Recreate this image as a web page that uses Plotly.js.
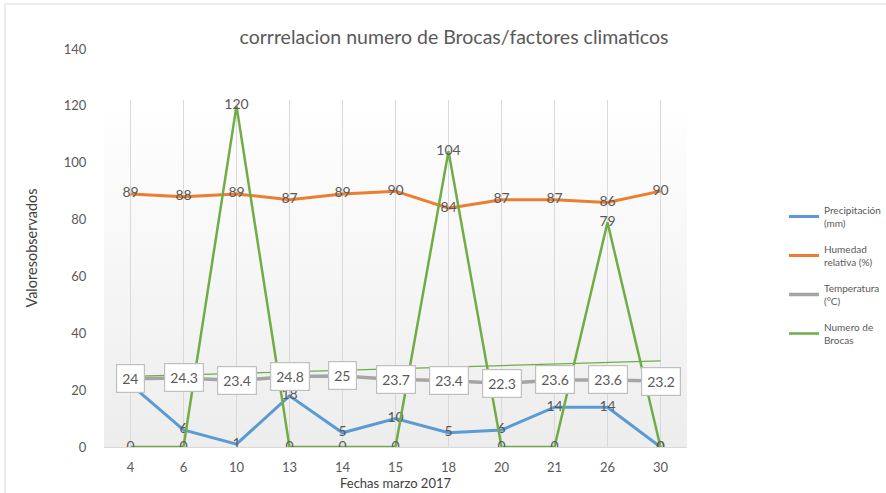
<!DOCTYPE html>
<html>
<head>
<meta charset="utf-8">
<script src="https://cdn.plot.ly/plotly-3.0.1.min.js"></script>
<style>html,body{margin:0;padding:0;background:#fff;}#chart{width:886px;height:493px;}</style>
</head>
<body>
<div id="chart"></div>
<script>
const fechas = ["4","6","10","13","14","15","18","20","21","26","30"];
const precipitacion = [22, 6, 1, 18, 5, 10, 5, 6, 14, 14, 0];
const humedad = [89, 88, 89, 87, 89, 90, 84, 87, 87, 86, 90];
const temperatura = [24, 24.3, 23.4, 24.8, 25, 23.7, 23.4, 22.3, 23.6, 23.6, 23.2];
const brocas = [0, 0, 120, 0, 0, 0, 104, 0, 0, 79, 0];

const FONT = "Lato, 'Open Sans', sans-serif";
const TXT = "#595959";

// linear trendline of Numero de Brocas (least squares over point index 1..n)
const n = brocas.length;
const idx = brocas.map((_, i) => i + 1);
const mx = idx.reduce((a, b) => a + b, 0) / n;
const my = brocas.reduce((a, b) => a + b, 0) / n;
let sxy = 0, sxx = 0;
for (let i = 0; i < n; i++) { sxy += (idx[i] - mx) * (brocas[i] - my); sxx += (idx[i] - mx) ** 2; }
const slope = sxy / sxx, icpt = my - slope * mx;
const trend = idx.map(v => icpt + slope * v);

const lblFont = {family: FONT, size: 14, color: TXT};

const traces = [
  {x: fechas, y: precipitacion, name: "Precipitación<br>(mm)", legendgroup: "a", type: "scatter", mode: "lines+text",
   text: precipitacion.map(String), textposition: "middle center", textfont: lblFont,
   line: {color: "#5B9BD5", width: 3}},
  {x: fechas, y: humedad, name: "Humedad<br>relativa (%)", legendgroup: "b", type: "scatter", mode: "lines+text",
   text: humedad.map(String), textposition: "middle center", textfont: lblFont,
   line: {color: "#ED7D31", width: 3}},
  {x: fechas, y: temperatura, name: "Temperatura<br>(°C)", legendgroup: "c", type: "scatter", mode: "lines",
   line: {color: "#A5A5A5", width: 3.5}},
  {x: fechas, y: brocas, name: "Numero de<br>Brocas", legendgroup: "d", type: "scatter", mode: "lines+text",
   text: brocas.map(String), textposition: "middle center", textfont: lblFont,
   line: {color: "#70AD47", width: 2.5}},
  {x: fechas, y: trend, name: "Lineal (Numero de Brocas)", type: "scatter", mode: "lines",
   showlegend: false, line: {color: "#70AD47", width: 1.3}}
];

// category positions are addressed by index (numeric-looking category names)
const annotations = temperatura.map((v, i) => ({
  x: i, y: v, xref: "x", yref: "y", text: String(v), showarrow: false,
  font: {family: FONT, size: 14, color: TXT}, bgcolor: "#ffffff",
  bordercolor: "#BFBFBF", borderwidth: 1.2, borderpad: 5
}));

// background gradient (white top -> light gray bottom) for the plot area
const bgTop = (447 - 100) / (447 - 49);
const svg = "<svg xmlns='http://www.w3.org/2000/svg' width='100' height='100' preserveAspectRatio='none'>" +
  "<defs><linearGradient id='g' x1='0' y1='0' x2='0' y2='1'><stop offset='0' stop-color='#ffffff'/>" +
  "<stop offset='1' stop-color='#ededed'/></linearGradient></defs><rect width='100' height='100' fill='url(#g)'/></svg>";

const shapes = fechas.map((f, i) => ({
  type: "line", xref: "x", yref: "paper", x0: i, x1: i, y0: 0, y1: bgTop,
  line: {color: "#D9D9D9", width: 1}, layer: "below"
}));
// chart frame
shapes.push({type: "rect", xref: "paper", yref: "paper",
  x0: (5 - 104) / 583, x1: (900 - 104) / 583, y0: (447 - 500) / 398, y1: (447 - 4) / 398,
  line: {color: "#D9D9D9", width: 1}, fillcolor: "rgba(0,0,0,0)", layer: "below"});

const layout = {
  width: 886, height: 493,
  margin: {l: 104, r: 199, t: 49, b: 46, autoexpand: false},
  paper_bgcolor: "#ffffff", plot_bgcolor: "rgba(0,0,0,0)",
  font: {family: FONT, color: TXT},
  title: {text: "corrrelacion numero de Brocas/factores climaticos",
    font: {family: FONT, size: 19.5, color: TXT}, x: 454 / 886, xanchor: "center",
    y: 1 - 37 / 493, yanchor: "middle", yref: "container"},
  xaxis: {type: "category", range: [-0.5, 10.5], showgrid: false, zeroline: false,
    showline: true, linecolor: "#D9D9D9", linewidth: 1,
    ticks: "outside", ticklen: 8, tickcolor: "rgba(0,0,0,0)",
    tickfont: {family: FONT, size: 13, color: TXT},
    title: {text: "Fechas marzo 2017", font: {family: FONT, size: 13, color: "#404040"}, standoff: 2}},
  yaxis: {range: [0, 140], dtick: 20, showgrid: false, zeroline: false, showline: false,
    ticks: "outside", ticklen: 14, tickcolor: "rgba(0,0,0,0)",
    tickfont: {family: FONT, size: 13, color: TXT},
    title: {text: "Valoresobservados", font: {family: FONT, size: 14.5, color: "#404040"}, standoff: 22}},
  legend: {x: (784 - 104) / 583, xanchor: "left", y: (447 - 197) / 398, yanchor: "top",
    font: {family: FONT, size: 10, color: TXT}, bgcolor: "rgba(0,0,0,0)", tracegroupgap: 10,
    itemwidth: 30},
  images: [{source: "data:image/svg+xml;utf8," + encodeURIComponent(svg), xref: "paper", yref: "paper",
    x: 0, y: bgTop, sizex: 1, sizey: bgTop, sizing: "stretch", xanchor: "left", yanchor: "top", layer: "below"}],
  shapes: shapes,
  annotations: annotations,
  showlegend: true
};

Plotly.newPlot("chart", traces, layout, {displayModeBar: false, staticPlot: true});
</script>
</body>
</html>
